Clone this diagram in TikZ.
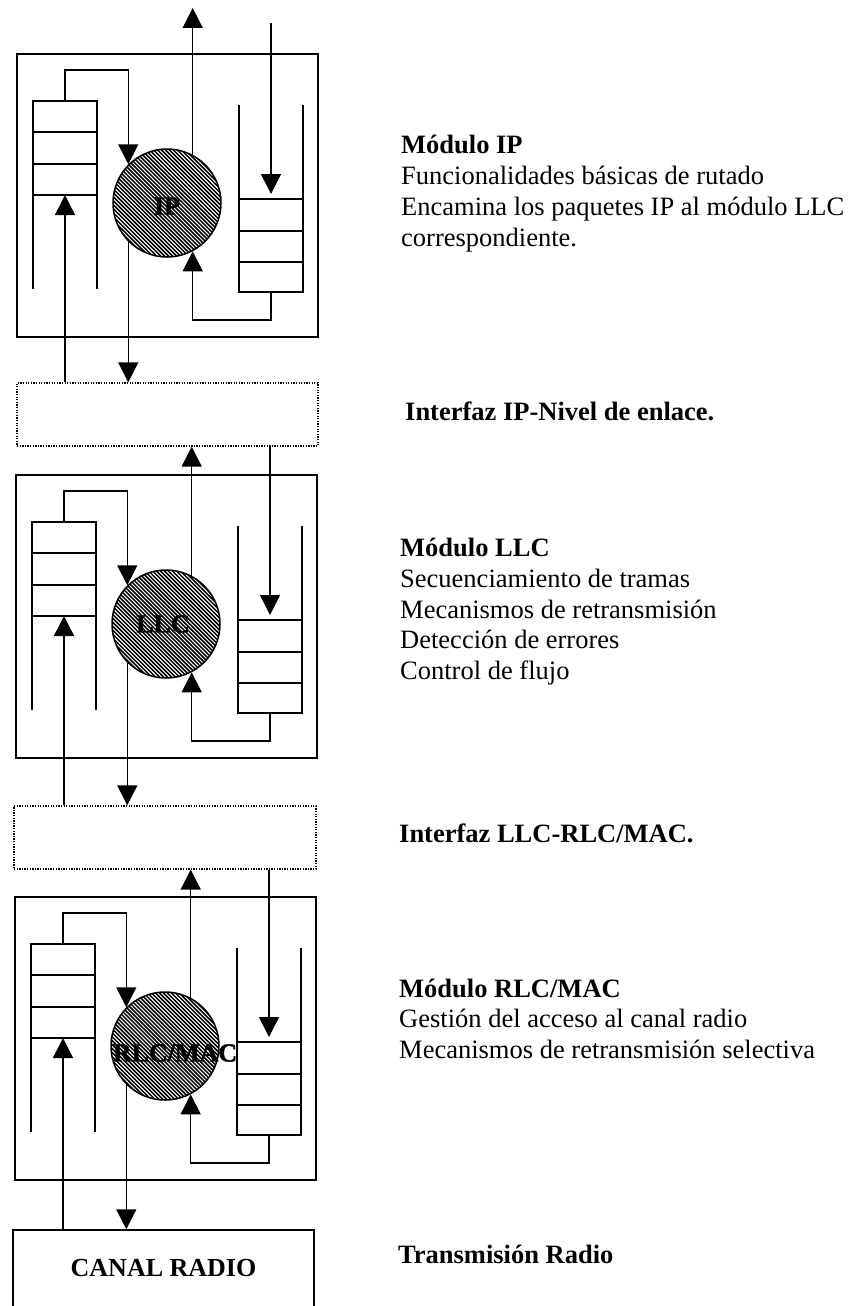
\documentclass[tikz,border=0pt]{standalone}
\usepackage{fontspec}
\setmainfont{Liberation Serif}
\usetikzlibrary{arrows.meta}
\tikzset{
  ln/.style={line width=1.5pt},
  hatchline/.style={line width=1.5pt},
  arr/.style={ln,-{Triangle[width=20pt,length=20pt]}},
  modbox/.style={draw,line width=1.5pt,minimum width=301pt,minimum height=283pt,inner sep=0pt},
  ifbox/.style={draw,line width=1.3pt,dash pattern=on 1.3pt off 1.3pt,minimum height=63pt,inner sep=0pt},
  canalbox/.style={draw,line width=1.5pt,minimum width=301pt,minimum height=100pt,inner sep=0pt},
  proc/.style={circle,draw,line width=1.5pt,minimum size=108pt,inner sep=0pt},
  proclabel/.style={inner sep=0pt,text=black,font={\fontsize{26}{30}\selectfont\bfseries}},
  circlabel/.style={proclabel,font={\fontsize{26}{30}\selectfont\bfseries\addfontfeature{FakeBold=1.5}}},
  heading/.style={anchor=base west,inner sep=0pt,text=black,font={\fontsize{26.5}{31}\selectfont\bfseries}},
  body/.style={anchor=base west,inner sep=0pt,text=black,font={\fontsize{26.5}{31}\selectfont}},
  pics/module/.style 2 args={code={
    \node[modbox] (-box) at (150.5,141.5) {};
    % hatched circle
    \begin{scope}
      \clip (150,149) circle[radius=54pt];
      \foreach \i in {-30,...,30}
        \draw[hatchline] ({150+3.96*\i-60},89) -- ({150+3.96*\i+60},209);
    \end{scope}
    \node[proc] (-c) at (150,149) {};
    \node[circlabel,#2] (-lab) at (150,149) {#1};
    % left queue
    \draw[ln] (16,235) -- (16,47) -- (80,47) -- (80,235);
    \draw[ln] (16,78) -- (80,78) (16,110) -- (80,110) (16,141) -- (80,141);
    \coordinate (-lqt) at (48,47);
    \coordinate (-lqb) at (48,141);
    % right queue
    \fill[white] (222,145) rectangle (286,238);
    \draw[ln] (222,51) -- (222,238) -- (286,238) -- (286,51);
    \draw[ln] (222,145) -- (286,145) (222,177) -- (286,177) (222,208) -- (286,208);
    \coordinate (-rqt) at (254,145);
    \coordinate (-rqb) at (254,238);
    % internal connectors
    \draw[arr] (-lqt) -- ++(0,-31) -| (-c.135);
    \draw[arr] (-rqb) -- ++(0,28) -| (-c.-62);
  }}
}
\begin{document}
\begin{tikzpicture}[x=1pt,y=-1pt]
\useasboundingbox (0,0) rectangle (852,1306);
\fill[white] (0,0) rectangle (852,1306);

\pic (ip) at (17,54) {module={IP}{yshift=-3pt}};
\pic (llc) at (16,475) {module={LLC}{xshift=-3pt}};
\pic (rlc) at (15,897) {module={RLC/MAC}{xshift=10pt,yshift=-7pt}};

\node[ifbox,minimum width=301pt] (if1) at (167.5,414.5) {};
\node[ifbox,minimum width=302pt] (if2) at (165,837.5) {};
\node[canalbox] (canal) at (163.5,1280) {};
\node[proclabel] (canaltxt) at (163.5,1268) {CANAL RADIO};

\coordinate (topout) at (192,8);
\coordinate (topin) at (271,23);

\draw[arr] (ip-c.62) -- (ip-c.62 |- topout);
\draw[arr] (topin) -- ([yshift=5pt]ip-rqt);
\draw[arr] (ip-c.225) -- (ip-c.225 |- if1.north);
\draw[arr] (if1.north -| ip-lqb) -- (ip-lqb);

\draw[arr] (llc-c.62) -- (llc-c.62 |- if1.south);
\draw[arr] (if1.south -| llc-rqt) -- ([yshift=5pt]llc-rqt);
\draw[arr] (llc-c.225) -- (llc-c.225 |- if2.north);
\draw[arr] (if2.north -| llc-lqb) -- (llc-lqb);

\draw[arr] (rlc-c.62) -- (rlc-c.62 |- if2.south);
\draw[arr] (if2.south -| rlc-rqt) -- ([yshift=5pt]rlc-rqt);
\draw[arr] (rlc-c.225) -- (rlc-c.225 |- canal.north);
\draw[arr] (canal.north -| rlc-lqb) -- (rlc-lqb);

\node[heading] (h1) at (401,153) {Módulo IP};
\node[body] (b11) at (401,184) {Funcionalidades básicas de rutado};
\node[body] (b12) at (401,215) {Encamina los paquetes IP al módulo LLC};
\node[body] (b13) at (401,246) {correspondiente.};

\node[heading] (h2) at (405,420) {Interfaz IP-Nivel de enlace.};

\node[heading] (h3) at (400,556) {Módulo LLC};
\node[body] (b31) at (400,587) {Secuenciamiento de tramas};
\node[body] (b32) at (400,618) {Mecanismos de retransmisión};
\node[body] (b33) at (400,648) {Detección de errores};
\node[body] (b34) at (400,679) {Control de flujo};

\node[heading] (h4) at (399,842) {Interfaz LLC-RLC/MAC.};

\node[heading] (h5) at (399,997) {Módulo RLC/MAC};
\node[body] (b51) at (399,1027) {Gestión del acceso al canal radio};
\node[body] (b52) at (399,1058) {Mecanismos de retransmisión selectiva};

\node[heading] (h6) at (398,1263) {Transmisión Radio};
\end{tikzpicture}
\end{document}
